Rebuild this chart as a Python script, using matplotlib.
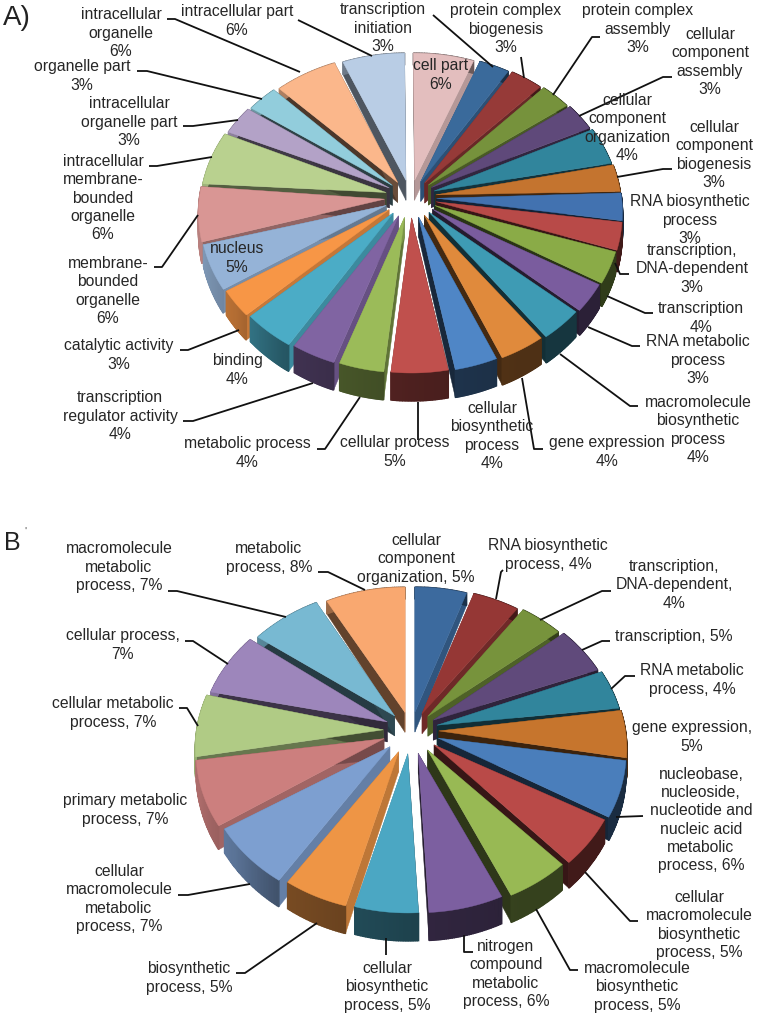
import numpy as np
import matplotlib
matplotlib.use("Agg")
import matplotlib.pyplot as plt
from matplotlib.colors import to_rgb

plt.rcParams["font.family"] = ["Liberation Sans", "DejaVu Sans"]

# === DATA, pie A ===
labels_a = [
    "cell part\n6%", "transcription\ninitiation\n3%", "protein complex\nbiogenesis\n3%",
    "protein complex\nassembly\n3%", "cellular\ncomponent\nassembly\n3%",
    "cellular\ncomponent\norganization\n4%", "cellular\ncomponent\nbiogenesis\n3%",
    "RNA biosynthetic\nprocess\n3%", "transcription,\nDNA-dependent\n3%", "transcription\n4%",
    "RNA metabolic\nprocess\n3%", "macromolecule\nbiosynthetic\nprocess\n4%", "gene expression\n4%",
    "cellular\nbiosynthetic\nprocess\n4%", "cellular process\n5%", "metabolic process\n4%",
    "transcription\nregulator activity\n4%", "binding\n4%", "catalytic activity\n3%", "nucleus\n5%",
    "membrane-\nbounded\norganelle\n6%", "intracellular\nmembrane-\nbounded\norganelle\n6%",
    "intracellular\norganelle part\n3%", "organelle part\n3%", "intracellular\norganelle\n6%",
    "intracellular part\n6%",
]
shares_a = [5.25, 2.64, 2.86, 2.72, 2.81, 3.89, 2.86, 2.92, 2.97, 3.5, 3.19, 3.67, 3.94,
            3.72, 4.94, 3.89, 3.81, 4.44, 3.03, 5.0, 5.83, 5.58, 2.94, 2.72, 5.47, 5.39]
colors_a = [
    "#E3BEBE", "#3A6A9B", "#963A38", "#76923C", "#5F497A", "#31859C", "#C4742F", "#4272B0",
    "#B84A48", "#8AAB47", "#7A5C9E", "#3E9BB4", "#E08A3C", "#4F86C6", "#C0504D", "#9BBB59",
    "#8064A2", "#4BACC6", "#F79646", "#95B3D7", "#D99694", "#B9D18F", "#B3A2C7", "#92CDDC",
    "#FBB78B", "#B9CDE5",
]

# === DATA, pie B ===
labels_b = [
    "cellular\ncomponent\norganization, 5%", "RNA biosynthetic\nprocess, 4%",
    "transcription,\nDNA-dependent,\n4%", "transcription, 5%", "RNA metabolic\nprocess, 4%",
    "gene expression,\n5%", "nucleobase,\nnucleoside,\nnucleotide and\nnucleic acid\nmetabolic\nprocess, 6%",
    "cellular\nmacromolecule\nbiosynthetic\nprocess, 5%", "macromolecule\nbiosynthetic\nprocess, 5%",
    "nitrogen\ncompound\nmetabolic\nprocess, 6%", "cellular\nbiosynthetic\nprocess, 5%",
    "biosynthetic\nprocess, 5%", "cellular\nmacromolecule\nmetabolic\nprocess, 7%",
    "primary metabolic\nprocess, 7%", "cellular metabolic\nprocess, 7%", "cellular process,\n7%",
    "macromolecule\nmetabolic\nprocess, 7%", "metabolic\nprocess, 8%",
]
shares_b = [4.44, 4.0, 3.75, 4.75, 4.03, 4.92, 6.03, 5.36, 5.39,
            6.42, 5.47, 5.5, 7.06, 7.06, 6.47, 6.39, 6.14, 6.83]
colors_b = [
    "#3C6A9E", "#953735", "#77933C", "#604A7B", "#31859C", "#C6752D", "#4A7EBB", "#B94A48",
    "#98B954", "#7C5FA0", "#4BA7C3", "#EE9545", "#7D9FD0", "#CC7F7E", "#B0CB85", "#9D86BB",
    "#78B9D2", "#F9A870",
]

# === LAYOUT (pixels of the picture) ===
label_pos_a = [
    (441, 75), (383, 28), (506, 29), (638, 29), (710, 62), (627, 128), (714, 155), (690, 220),
    (692, 269), (701, 318), (698, 360), (698, 430), (607, 452), (492, 436), (395, 452), (247, 453),
    (120, 416), (237, 370), (119, 355), (237, 258), (108, 291), (103, 198), (129, 122), (82, 76),
    (121, 33), (237, 21),
]
leaders_a = [
    [(298, 20), (372, 56)], [(167, 19), (175, 19), (300, 72)], [(137, 71), (147, 71), (262, 99)],
    [(183, 126), (193, 126), (238, 120)], [(149, 166), (157, 166), (212, 157)],
    [(154, 267), (162, 267), (198, 215)], [(180, 350), (188, 350), (239, 330)],
    [(183, 421), (193, 421), (313, 383)], [(317, 449), (325, 449), (360, 397)],
    [(418, 402), (418, 440)], [(522, 378), (534, 449), (543, 449)], [(560, 354), (630, 406), (638, 406)],
    [(588, 327), (632, 346), (640, 346)], [(607, 296), (645, 313), (653, 313)],
    [(615, 263), (620, 274), (629, 274)], [(617, 177), (663, 169), (672, 169)],
    [(579, 116), (663, 77), (672, 77)], [(553, 95), (592, 37), (600, 37)], [(524, 78), (521, 57)],
    [(493, 67), (433, 15)],
]
label_pos_b = [
    (416, 559), (548, 555), (674, 585), (674, 636), (692, 680), (692, 737), (701, 820), (699, 925),
    (637, 987), (506, 974), (387, 987), (189, 978), (119, 899), (125, 810), (113, 713), (123, 645),
    (119, 567), (269, 558),
]
leaders_b = [
    [(365, 590), (328, 572), (318, 572)], [(168, 591), (177, 591), (286, 617)],
    [(185, 641), (193, 641), (228, 664)], [(179, 708), (187, 708), (198, 726)],
    [(178, 895), (188, 895), (250, 884)], [(236, 973), (245, 973), (317, 923)],
    [(386, 938), (386, 955)], [(464, 935), (464, 952), (473, 952)], [(536, 909), (570, 970), (578, 970)],
    [(585, 872), (630, 921), (638, 921)], [(616, 817), (643, 816)],
    [(611, 689), (625, 676), (635, 676)], [(582, 650), (602, 641), (610, 641)],
    [(540, 620), (602, 591), (611, 591)], [(496, 599), (501, 572), (503, 570)],
]


def shade(color, factor):
    return tuple(c * factor for c in to_rgb(color))


def radial_factor(angle):
    return np.interp(angle % 360,
                     [0, 18, 30, 45, 60, 75, 90, 180, 190, 240, 255, 270, 285, 300, 320, 340, 360],
                     [.8, .8, .75, .65, .5, .35, .3, .3, .8, .8, .72, .55, .4, .35, .3, .42, .45])


def rim_factor(angle):
    return np.interp(angle % 360, [0, 90, 150, 180, 215, 235, 260, 290, 360],
                     [.5, .35, .35, .4, .5, .72, .85, .85, .5])


def draw_pie(ax, shares, colors, cx, cy, rx, ry, ex, ey, lift, tip_ey, start=0.0):
    shares = np.asarray(shares, dtype=float)
    edges = start + np.concatenate([[0], np.cumsum(shares) / shares.sum() * 360])
    order = sorted(range(len(shares)), key=lambda i: -np.cos(np.radians((edges[i] + edges[i + 1]) / 2)))
    for i in order:
        a0, a1 = edges[i], edges[i + 1]
        mid = np.radians((a0 + a1) / 2)
        x0 = cx + ex * np.sin(mid)
        y0 = cy - ey * np.cos(mid)
        # perspective: the tip sits above the middle of the outline, the back wall is thin
        tip_x = x0
        tip_y = cy - lift - tip_ey * np.cos(mid)
        tip_depth = 20
        theta = np.radians(np.linspace(a0, a1, 40))
        xs = x0 + rx * np.sin(theta)
        ys = y0 - ry * np.cos(theta)
        depth = 20 - 8 * np.cos(theta)
        for k, ang in ((0, a0), (-1, a1)):
            wx = [tip_x, xs[k], xs[k], tip_x]
            wy = [tip_y, ys[k], ys[k] + depth[k], tip_y + tip_depth]
            ax.fill(wx, wy, color=shade(colors[i], radial_factor(ang)), lw=0.3, zorder=2)
        # rim strip by strip so the light changes along it
        for j in range(len(theta) - 1):
            col = shade(colors[i], rim_factor(np.degrees(theta[j])))
            ax.fill([xs[j], xs[j + 1], xs[j + 1], xs[j]],
                    [ys[j], ys[j + 1], ys[j + 1] + depth[j + 1], ys[j] + depth[j]],
                    color=col, lw=1.0, zorder=2)
        ax.fill(np.r_[tip_x, xs], np.r_[tip_y, ys], color=colors[i], lw=0.3, zorder=2)


def draw_labels(ax, labels, positions, leaders):
    for pts in leaders:
        ax.plot(*zip(*pts), color="#111111", lw=1.3, solid_capstyle="butt", zorder=3)
    for text, (x, y) in zip(labels, positions):
        ax.text(x, y, text, ha="center", va="center", fontsize=11.3, color="#262626",
                linespacing=1.28, zorder=4)


fig = plt.figure(figsize=(7.57, 10.18), dpi=100)
ax = fig.add_axes([0, 0, 1, 1])
ax.set_xlim(0, 757)
ax.set_ylim(1018, 0)
ax.axis("off")

draw_pie(ax, shares_a, colors_a, 410.5, 213, 186, 152, 26, 8, 14, 19, start=-0.4)
draw_pie(ax, shares_b, colors_b, 411, 750, 188, 155, 28, 8, 17, 21)
draw_labels(ax, labels_a, label_pos_a, leaders_a)
draw_labels(ax, labels_b, label_pos_b, leaders_b)

ax.text(3, 18, "A)", fontsize=20, color="#222222", ha="left", va="center")
ax.text(4, 543, "B", fontsize=18, color="#222222", ha="left", va="center")
ax.text(24, 532, "'", fontsize=8, color="#555555", ha="left", va="center")

fig.savefig("out.png", dpi=100)
